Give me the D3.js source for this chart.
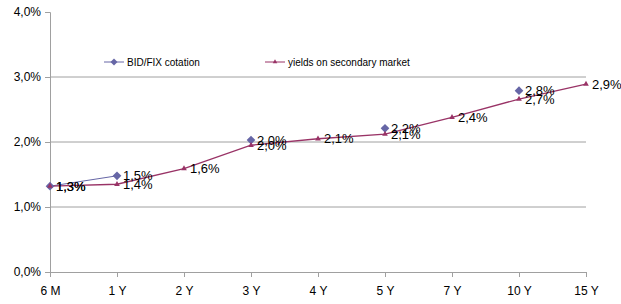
<!DOCTYPE html>
<html>
<head>
<meta charset="utf-8">
<script src="https://cdn.jsdelivr.net/npm/d3@7"></script>
<style>
  body { margin: 0; background: #fff; }
  svg { display: block; font-family: "Liberation Sans", Arial, sans-serif; }
</style>
</head>
<body>
<svg id="chart"></svg>
<script>
// categories and series (null = no quote for that maturity)
const maturities = ["6 M", "1 Y", "2 Y", "3 Y", "4 Y", "5 Y", "7 Y", "10 Y", "15 Y"];
const bidFix = [1.32, 1.48, null, 2.03, null, 2.21, null, 2.79, null];
const bidLabels = ["1,3%", "1,5%", "", "2,0%", "", "2,2%", "", "2,8%", ""];
const yields = [1.32, 1.35, 1.59, 1.95, 2.05, 2.12, 2.38, 2.66, 2.89];
const yieldLabels = ["1,3%", "1,4%", "1,6%", "2,0%", "2,1%", "2,1%", "2,4%", "2,7%", "2,9%"];
const yTicks = [0, 1, 2, 3, 4];
const yTickLabels = ["0,0%", "1,0%", "2,0%", "3,0%", "4,0%"];

const width = 621, height = 304;
const marginLeft = 50, marginRight = 35, marginTop = 12, marginBottom = 32;
const blue = "#6666a6", red = "#993366", grid = "#a0a0a0";

const svg = d3.select("#chart").attr("width", width).attr("height", height);

const x = d3.scalePoint().domain(maturities).range([marginLeft, width - marginRight]);
const y = d3.scaleLinear().domain([0, 4]).range([height - marginBottom, marginTop]);

// gridlines
svg.append("g")
  .selectAll("line")
  .data([1, 2, 3])
  .join("line")
  .attr("x1", marginLeft).attr("x2", width - marginRight)
  .attr("y1", d => y(d)).attr("y2", d => y(d))
  .attr("stroke", grid).attr("stroke-width", 1);

// axes
const yAxis = svg.append("g")
  .attr("transform", `translate(${marginLeft},0)`)
  .call(d3.axisLeft(y).tickValues(yTicks).tickFormat((d, i) => yTickLabels[i]).tickSize(5).tickPadding(4));
const xAxis = svg.append("g")
  .attr("transform", `translate(0,${height - marginBottom})`)
  .call(d3.axisBottom(x).tickSize(5).tickPadding(9));
[xAxis, yAxis].forEach(g => {
  g.select(".domain").attr("stroke", grid);
  g.selectAll(".tick line").attr("stroke", grid);
  g.selectAll("text").attr("fill", "#000").attr("font-size", 12)
    .attr("font-family", "'Liberation Sans', Arial, sans-serif");
});

// lines
const lineBid = d3.line()
  .defined(d => d != null)
  .x((d, i) => x(maturities[i])).y(d => y(d));
svg.append("path").datum(bidFix).attr("d", lineBid)
  .attr("fill", "none").attr("stroke", blue).attr("stroke-width", 1);

const lineYield = d3.line().x((d, i) => x(maturities[i])).y(d => y(d));
svg.append("path").datum(yields).attr("d", lineYield)
  .attr("fill", "none").attr("stroke", red).attr("stroke-width", 1.3);

// markers
const diamond = d3.symbol().type(d3.symbolDiamond2).size(48);
const bidPts = bidFix.map((v, i) => ({ cat: maturities[i], v, label: bidLabels[i] })).filter(d => d.v != null);
svg.append("g").selectAll("path")
  .data(bidPts)
  .join("path")
  .attr("d", diamond)
  .attr("transform", d => `translate(${x(d.cat)},${y(d.v)})`)
  .attr("fill", blue);

const tri = d3.symbol().type(d3.symbolTriangle).size(14);
svg.append("g").selectAll("path")
  .data(yields)
  .join("path")
  .attr("d", tri)
  .attr("transform", (d, i) => `translate(${x(maturities[i])},${y(d)})`)
  .attr("fill", red);

// data labels
svg.append("g").selectAll("text")
  .data(bidPts)
  .join("text")
  .attr("x", d => x(d.cat) + 6)
  .attr("y", d => y(d.v))
  .attr("dy", "0.35em")
  .attr("font-size", 13)
  .text(d => d.label);

svg.append("g").selectAll("text")
  .data(yields)
  .join("text")
  .attr("x", (d, i) => x(maturities[i]) + 6)
  .attr("y", d => y(d))
  .attr("dy", "0.35em")
  .attr("font-size", 13)
  .text((d, i) => yieldLabels[i]);

// legend
const legend = svg.append("g").attr("font-size", 10);
const items = [
  { name: "BID/FIX cotation", color: blue, sym: diamond, x0: 104 },
  { name: "yields on secondary market", color: red, sym: tri, x0: 265 }
];
items.forEach(it => {
  const g = legend.append("g").attr("transform", `translate(${it.x0},62)`);
  g.append("line").attr("x1", 0).attr("x2", 20).attr("stroke", it.color).attr("stroke-width", 1);
  g.append("path").attr("d", it.sym).attr("transform", "translate(10,0) scale(0.8)").attr("fill", it.color);
  g.append("text").attr("x", 23).attr("dy", "0.35em").text(it.name);
});
</script>
</body>
</html>
